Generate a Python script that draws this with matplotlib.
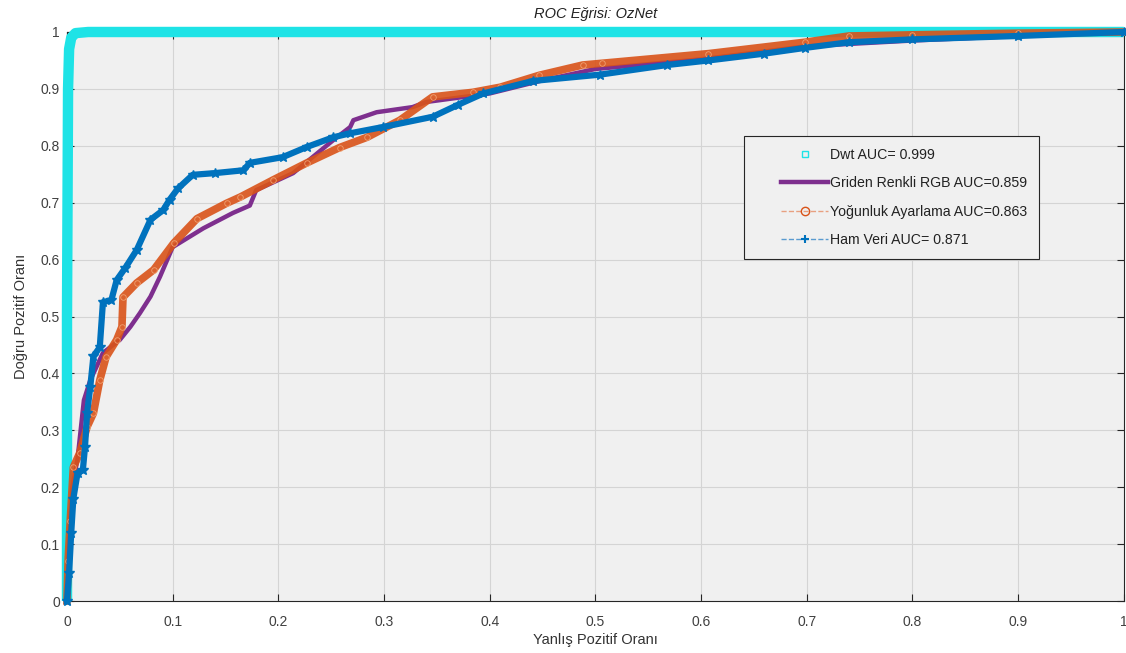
import matplotlib
matplotlib.use("Agg")
import matplotlib.pyplot as plt
from matplotlib.lines import Line2D
from matplotlib.legend_handler import HandlerLine2D
import numpy as np

plt.rcParams['font.family'] = ['Liberation Sans', 'DejaVu Sans']

# ---- data ----
labels = ["Dwt AUC= 0.999", "Griden Renkli RGB AUC=0.859",
          "Yoğunluk Ayarlama AUC=0.863", "Ham Veri AUC= 0.871"]

dwt_fpr = [0, 0, 0.001, 0.002, 0.004, 0.008, 0.02, 0.1, 1.0]
dwt_tpr = [0, 0.5, 0.9, 0.97, 0.99, 0.998, 1.0, 1.0, 1.0]

rgb_fpr = [0, 0.002, 0.005, 0.01, 0.016, 0.022, 0.034, 0.05, 0.06, 0.069, 0.079,
           0.088, 0.1, 0.129, 0.157, 0.173, 0.179, 0.214, 0.252, 0.268, 0.271,
           0.293, 0.327, 0.34, 0.4, 0.45, 0.5, 0.6, 0.7, 0.8, 0.9, 1.0]
rgb_tpr = [0, 0.1, 0.2, 0.25, 0.353, 0.388, 0.436, 0.459, 0.482, 0.506, 0.535,
           0.57, 0.622, 0.655, 0.682, 0.695, 0.722, 0.752, 0.81, 0.833, 0.845,
           0.859, 0.868, 0.877, 0.892, 0.915, 0.935, 0.952, 0.975, 0.985, 0.993, 1.0]

yog_fpr = [0, 0.001, 0.003, 0.006, 0.012, 0.019, 0.025, 0.031, 0.037, 0.047, 0.052,
           0.053, 0.066, 0.082, 0.101, 0.123, 0.151, 0.164, 0.195, 0.227, 0.258,
           0.284, 0.315, 0.346, 0.384, 0.41, 0.447, 0.488, 0.506, 0.607, 0.698,
           0.74, 0.8, 0.9, 1.0]
yog_tpr = [0, 0.07, 0.14, 0.235, 0.26, 0.306, 0.33, 0.388, 0.429, 0.459, 0.482,
           0.534, 0.559, 0.582, 0.629, 0.672, 0.699, 0.71, 0.74, 0.77, 0.797,
           0.815, 0.845, 0.886, 0.894, 0.903, 0.924, 0.942, 0.945, 0.962, 0.982,
           0.993, 0.995, 0.998, 1.0]

ham_fpr = [0, 0.002, 0.004, 0.006, 0.01, 0.015, 0.017, 0.019, 0.022, 0.025, 0.031,
           0.034, 0.042, 0.047, 0.055, 0.066, 0.079, 0.091, 0.097, 0.105, 0.119,
           0.14, 0.167, 0.173, 0.204, 0.227, 0.252, 0.268, 0.299, 0.346, 0.37,
           0.394, 0.441, 0.504, 0.568, 0.607, 0.66, 0.698, 0.74, 0.8, 0.9, 1.0]
ham_tpr = [0, 0.05, 0.12, 0.18, 0.225, 0.23, 0.27, 0.33, 0.376, 0.43, 0.446,
           0.525, 0.529, 0.564, 0.585, 0.617, 0.67, 0.687, 0.705, 0.725, 0.749,
           0.752, 0.757, 0.77, 0.78, 0.798, 0.815, 0.822, 0.833, 0.851, 0.872,
           0.892, 0.914, 0.925, 0.942, 0.95, 0.962, 0.972, 0.982, 0.987, 0.993, 1.0]

ticks = [0, 0.1, 0.2, 0.3, 0.4, 0.5, 0.6, 0.7, 0.8, 0.9, 1]
tick_labels = ["0", "0.1", "0.2", "0.3", "0.4", "0.5", "0.6", "0.7", "0.8", "0.9", "1"]

c_dwt = '#1EE3E6'
c_rgb = '#7E2F8E'
c_yog = '#D95319'
c_ham = '#0072BD'

fig = plt.figure(figsize=(11.26, 6.53), dpi=100)
ax = fig.add_axes([0.0595, 0.0796, 0.9385, 0.8714])
ax.set_facecolor('#F0F0F0')

ax.plot(dwt_fpr, dwt_tpr, color=c_dwt, lw=7.5, solid_capstyle='butt', clip_on=False, zorder=3)
ax.plot(rgb_fpr, rgb_tpr, color=c_rgb, lw=3.2, clip_on=False, zorder=4)
ax.plot(yog_fpr, yog_tpr, color=c_yog, lw=5.5, alpha=0.9, clip_on=False, zorder=5)
ax.plot(yog_fpr, yog_tpr, color='#E98A5A', lw=0, marker='o', ms=4, mfc='none',
        mec='#F0A070', mew=0.6, clip_on=False, zorder=5)
ax.plot(ham_fpr, ham_tpr, color=c_ham, lw=4.5, clip_on=False, zorder=6)
ax.plot(ham_fpr, ham_tpr, color=c_ham, lw=0, marker='*', ms=7, clip_on=False, zorder=6)

ax.set_xlim(0, 1)
ax.set_ylim(0, 1)
ax.set_xticks(ticks)
ax.set_xticklabels(tick_labels)
ax.set_yticks(ticks)
ax.set_yticklabels(tick_labels)
ax.tick_params(direction='in', length=5, width=0.8, top=True, right=True,
               labelsize=10, colors='#262626', labelcolor='#404040')
ax.tick_params(axis='x', pad=10)
ax.tick_params(axis='y', pad=5)
ax.grid(True, color='#D4D4D4', lw=0.8)
ax.set_axisbelow(True)
for s in ax.spines.values():
    s.set_color('#262626')
    s.set_linewidth(0.8)

ax.set_title('ROC Eğrisi: OzNet', fontsize=10.5, style='italic', color='#222222', pad=10)
ax.set_xlabel('Yanlış Pozitif Oranı', fontsize=10.5, color='#333333', labelpad=3)
ax.set_ylabel('Doğru Pozitif Oranı', fontsize=10.5, color='#333333', labelpad=9)

handles = [
    Line2D([], [], color=c_dwt, lw=0, marker='s', ms=5, mfc='none', mec=c_dwt),
    Line2D([], [], color=c_rgb, lw=3.2),
    Line2D([], [], color='#E8A080', lw=1, ls='--', marker='o', ms=6, mfc='none', mec=c_yog),
    Line2D([], [], color='#5A9BD0', lw=1, ls='--', marker='+', ms=6, mec=c_ham, mew=1.5),
]
hmap = {h: HandlerLine2D(xpad=1.75) for h in handles}
leg = ax.legend(handles, labels, loc='upper left', bbox_to_anchor=(0.641, 0.817),
                fontsize=10.2, frameon=True, fancybox=False, handlelength=5.05,
                borderpad=0.85, labelspacing=1.0, handletextpad=0.15, borderaxespad=0,
                handler_map=hmap)
leg.get_frame().set_facecolor('#F0F0F0')
leg.get_frame().set_edgecolor('#262626')
leg.get_frame().set_linewidth(0.8)
leg.get_frame().set_alpha(1)
for t in leg.get_texts():
    t.set_color('#222222')

fig.savefig('out.png', dpi=100)
